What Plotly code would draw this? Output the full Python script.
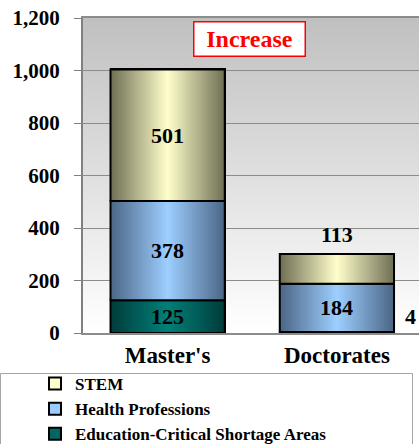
import base64
import struct
import zlib

import plotly.graph_objects as go

# ---------------- data ----------------
categories = ["Master's", "Doctorates"]
series_names = ["Education-Critical Shortage Areas", "Health Professions", "STEM"]
edu_values = [125, 4]
health_values = [378, 184]
stem_values = [501, 113]
y_tick_values = [0, 200, 400, 600, 800, 1000, 1200]
callout_text = "Increase"

# ---------------- style ----------------
FONT = "Liberation Serif"
BAR_W = 0.675
solid_colors = ["#006666", "#99ccff", "#ffffcc"]
edge_colors = ["#003c3a", "#4b6585", "#6e6e54"]
mid_colors = ["#008078", "#9dcfff", "#ffffcc"]

W, H = 419, 444
PLOT_L, PLOT_R, PLOT_T, PLOT_B = 83, 419, 18, 333   # page pixels
ML, MT, MR, MB = PLOT_L, PLOT_T, W - PLOT_R, H - PLOT_B
PW, PH = PLOT_R - PLOT_L, PLOT_B - PLOT_T


def px_x(p):
    return (p - PLOT_L) / PW


def px_y(p):
    return (PLOT_B - p) / PH


def gradient_png(top, bottom, n=256, w=4):
    raw = b""
    for i in range(n):
        t = i / (n - 1)
        c = bytes(round(top[k] + (bottom[k] - top[k]) * t) for k in range(3))
        raw += b"\x00" + c * w

    def chunk(tag, data):
        return (struct.pack(">I", len(data)) + tag + data
                + struct.pack(">I", zlib.crc32(tag + data) & 0xffffffff))

    ihdr = struct.pack(">IIBBBBB", w, n, 8, 2, 0, 0, 0)
    png = (b"\x89PNG\r\n\x1a\n" + chunk(b"IHDR", ihdr)
           + chunk(b"IDAT", zlib.compress(raw)) + chunk(b"IEND", b""))
    return "data:image/png;base64," + base64.b64encode(png).decode()


series_values = [edu_values, health_values, stem_values]
xs = list(range(len(categories)))

fig = go.Figure()

# plain stacked bars (carry the data + legend)
for name, vals, col in zip(series_names, series_values, solid_colors):
    fig.add_trace(go.Bar(
        x=xs, y=vals, name=name, width=BAR_W,
        marker=dict(color=col, line=dict(color="black", width=2)),
        hoverinfo="skip",
    ))

# gradient overlays on each stacked segment, computed from the same data
bases = [0] * len(categories)
annotations = []
for si, (vals, ec, mc) in enumerate(zip(series_values, edge_colors, mid_colors)):
    for ci, v in enumerate(vals):
        b0, b1 = bases[ci], bases[ci] + v
        x0, x1 = ci - BAR_W / 2, ci + BAR_W / 2
        fig.add_trace(go.Scatter(
            x=[x0, x1, x1, x0, x0], y=[b0, b0, b1, b1, b0],
            mode="lines", fill="toself",
            fillgradient=dict(type="horizontal",
                              colorscale=[[0, ec], [0.5, mc], [1, ec]]),
            line=dict(color="black", width=2),
            showlegend=False, hoverinfo="skip",
        ))
        is_top = si == len(series_values) - 1
        lab_font = dict(family=FONT, size=22, color="black", weight="bold")
        if v >= 120:
            annotations.append(dict(x=ci, y=(b0 + b1) / 2, text=str(v),
                                    showarrow=False, font=lab_font))
        elif is_top:
            annotations.append(dict(x=ci, y=b1, text=str(v), showarrow=False,
                                    yanchor="bottom", yshift=5, font=lab_font))
        else:
            annotations.append(dict(x=x1, y=(b0 + b1) / 2, text=str(v),
                                    showarrow=False, xanchor="left",
                                    xshift=9, yshift=16, font=lab_font))
        bases[ci] = b1

annotations.append(dict(
    xref="paper", yref="paper", x=px_x(249), y=px_y(38.5),
    xanchor="center", yanchor="middle",
    text=callout_text, showarrow=False,
    font=dict(family=FONT, size=24, color="#ff0000", weight="bold"),
    bgcolor="white", bordercolor="#ff0000", borderwidth=1.5,
    width=108, height=31,
))

legend_frame = dict(color="#a6a6a6", width=1)
fig.update_layout(
    width=W, height=H, autosize=False,
    margin=dict(l=ML, r=MR, t=MT, b=MB, autoexpand=False),
    barmode="stack",
    paper_bgcolor="white",
    plot_bgcolor="rgba(0,0,0,0)",
    font=dict(family=FONT, color="black"),
    annotations=annotations,
    images=[dict(source=gradient_png((192, 192, 192), (255, 255, 255)),
                 xref="paper", yref="paper", x=0, y=1, sizex=1, sizey=1,
                 xanchor="left", yanchor="top", sizing="stretch",
                 layer="below")],
    shapes=[
        dict(type="rect", xref="paper", yref="paper",
             x0=px_x(0.5), x1=px_x(412.5), y0=px_y(373.5), y1=px_y(470),
             line=legend_frame, fillcolor="rgba(0,0,0,0)"),
    ],
    legend=dict(
        x=px_x(35), y=px_y(366), xanchor="left", yanchor="top",
        traceorder="reversed",
        font=dict(family=FONT, size=17, color="black", weight="bold"),
        bgcolor="rgba(0,0,0,0)", borderwidth=0,
    ),
    xaxis=dict(
        range=[-0.5, 1.485], tickvals=xs, ticktext=categories,
        showgrid=False, zeroline=False,
        showline=True, linecolor="#8c8c8c", linewidth=2, mirror=True,
        tickfont=dict(family=FONT, size=23, color="black", weight="bold"),
        ticks="", ticklabeloverflow="allow",
    ),
    yaxis=dict(
        range=[0, 1200], tickvals=y_tick_values, tickformat=",",
        showgrid=True, gridcolor="#8c8c8c", gridwidth=1, zeroline=False,
        showline=True, linecolor="#808080", linewidth=2,
        ticks="outside", ticklen=7, tickcolor="#808080", tickwidth=1,
        ticklabelstandoff=10, ticklabeloverflow="allow",
        tickfont=dict(family=FONT, size=21, color="black", weight="bold"),
    ),
)

fig.write_html(
    "out.html",
    config={"displayModeBar": False},
    post_script=("document.documentElement.style.margin='0';"
                 "document.body.style.margin='0';"
                 "document.documentElement.style.overflow='hidden';"
                 "document.body.style.overflow='hidden';"),
)
